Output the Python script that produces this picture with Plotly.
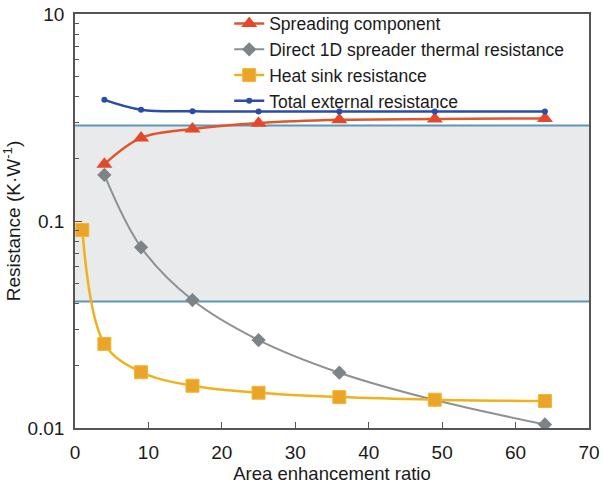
import plotly.graph_objects as go

# ---- data ----
x_heat = [1, 4, 9, 16, 25, 36, 49, 64]
heat_sink = [0.0905, 0.0255, 0.0186, 0.0160, 0.0148, 0.0141, 0.0137, 0.0135]

x_main = [4, 9, 16, 25, 36, 49, 64]
spreading = [0.188, 0.252, 0.278, 0.297, 0.308, 0.311, 0.313]
direct_1d = [0.167, 0.0746, 0.0415, 0.0266, 0.0185, 0.01365, 0.0104]
total_ext = [0.385, 0.345, 0.339, 0.338, 0.338, 0.338, 0.338]

band_x = [0, 70]
band_low = 0.0408
band_high = 0.289

y_tickvals = [0.01, 0.1, 1]
y_ticktext = ["0.01", "0.1", "10"]
y_minor = [m * d for d in (0.01, 0.1) for m in range(2, 10)]
x_tickvals = [0, 10, 20, 30, 40, 50, 60, 70]

FONT = "Liberation Sans, Arial, sans-serif"
band_line = "#5e95bb"

fig = go.Figure()

# shaded band
fig.add_trace(go.Scatter(x=band_x, y=[band_low, band_low], mode="lines",
                         line=dict(color=band_line, width=2),
                         showlegend=False, hoverinfo="skip"))
fig.add_trace(go.Scatter(x=band_x, y=[band_high, band_high], mode="lines",
                         line=dict(color=band_line, width=2),
                         fill="tonexty", fillcolor="#e9eaeb",
                         showlegend=False, hoverinfo="skip"))

fig.add_trace(go.Scatter(x=x_main, y=spreading, name="Spreading component",
                         mode="lines+markers",
                         line=dict(color="#e2552b", width=2.5, shape="spline"),
                         marker=dict(symbol="triangle-up", size=14, color="#e2492a")))
fig.add_trace(go.Scatter(x=x_main, y=direct_1d, name="Direct 1D spreader thermal resistance",
                         mode="lines+markers",
                         line=dict(color="#8c9194", width=2, shape="spline"),
                         marker=dict(symbol="diamond", size=11, color="#7d8488")))
fig.add_trace(go.Scatter(x=x_heat, y=heat_sink, name="Heat sink resistance",
                         mode="lines+markers",
                         line=dict(color="#efb21c", width=2.5, shape="spline"),
                         marker=dict(symbol="square", size=13, color="#eba42a",
                                     line=dict(color="#f0b830", width=1))))
fig.add_trace(go.Scatter(x=x_main, y=total_ext, name="Total external resistance",
                         mode="lines+markers",
                         line=dict(color="#2a4ea6", width=2.5, shape="spline"),
                         marker=dict(symbol="circle", size=6, color="#2a4ea6")))

fig.update_layout(
    width=603, height=485,
    margin=dict(l=75, r=14, t=14, b=57, autoexpand=False),
    paper_bgcolor="white", plot_bgcolor="white",
    font=dict(family=FONT, size=18, color="#1a1a1a"),
    showlegend=True,
    legend=dict(x=0.3, y=1.02, xanchor="left", yanchor="top",
                traceorder="normal",
                bgcolor="rgba(0,0,0,0)", font=dict(size=17.5),
                tracegroupgap=0, itemwidth=30),
)

fig.update_xaxes(range=[0, 70], tickvals=x_tickvals, ticks="inside", ticklen=6,
                 tickcolor="#555", showline=True, linecolor="#555", linewidth=1.5,
                 mirror=True, showgrid=False, zeroline=False,
                 tickfont=dict(size=19), ticklabelstandoff=6,
                 title=dict(text="Area enhancement ratio", font=dict(size=18.5), standoff=2))
fig.update_yaxes(type="log", range=[-2, 0], tickvals=y_tickvals, ticktext=y_ticktext,
                 ticks="inside", ticklen=7, tickcolor="#555",
                 minor=dict(tickvals=y_minor, ticks="inside", ticklen=4, tickcolor="#555"),
                 showline=True, linecolor="#555", linewidth=1.5, mirror=True,
                 showgrid=False, zeroline=False, tickfont=dict(size=19),
                 ticklabelstandoff=5,
                 title=dict(text="Resistance (K·W<sup>-1</sup>)", font=dict(size=19), standoff=4))

fig.write_html("out.html")
